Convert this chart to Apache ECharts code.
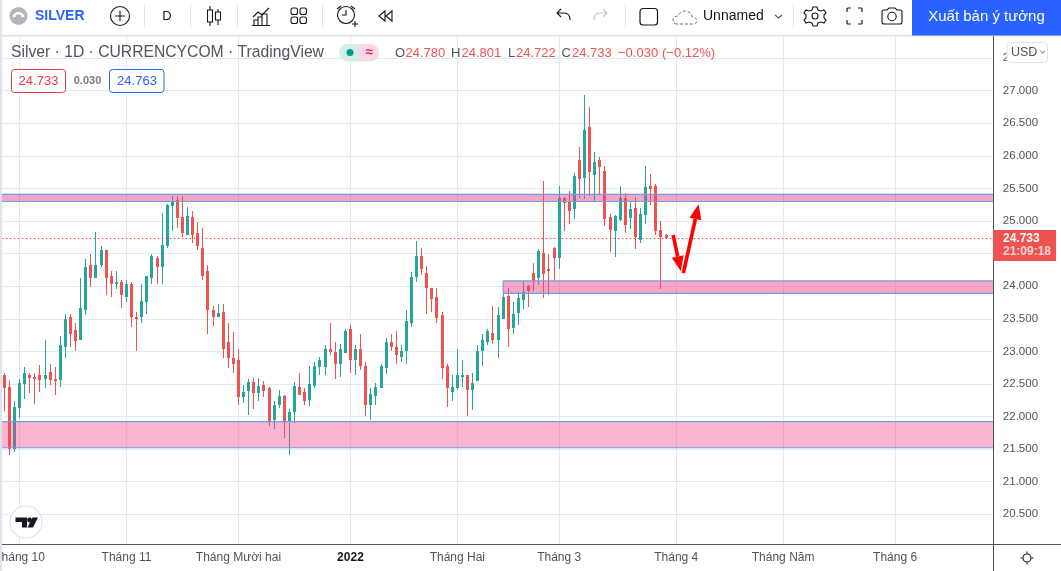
<!DOCTYPE html>
<html><head><meta charset="utf-8"><style>html,body{margin:0;padding:0;background:#fff}#c{width:1061px;height:571px}</style>
<script src="https://cdn.jsdelivr.net/npm/echarts@6/dist/echarts.min.js"></script></head>
<body><div id="c"></div><script>
const opens=[22.63,22.46,21.50,22.13,22.50,22.63,22.61,22.63,22.58,22.69,22.58,22.56,23.06,23.52,23.33,23.18,23.64,24.32,24.13,24.32,24.56,24.15,24.04,24.07,23.84,24.04,23.53,23.53,23.75,24.12,24.44,24.29,24.61,25.23,25.32,25.06,24.79,25.06,24.81,24.58,24.23,23.64,23.53,23.61,23.15,22.90,22.86,22.30,22.39,22.53,22.36,22.49,22.43,21.95,22.18,22.32,21.93,22.07,22.46,22.38,22.26,22.47,22.76,22.76,23.04,22.99,22.80,22.97,23.35,22.87,23.04,22.77,22.18,22.32,22.44,22.75,23.15,23.07,22.91,23.00,23.44,24.14,24.47,24.20,23.97,23.83,23.55,22.78,22.37,22.44,22.61,22.63,22.41,22.54,23.00,23.15,23.28,23.18,23.50,23.85,23.36,23.59,23.79,24.00,24.20,24.13,24.51,24.26,24.59,24.43,25.35,25.31,25.19,25.94,25.66,26.44,25.71,25.94,25.77,25.06,24.85,25.02,25.35,25.05,25.20,24.71,25.09,25.54,25.54,24.86,24.78];
const closes=[22.44,21.50,22.15,22.52,22.67,22.59,22.58,22.56,22.64,22.56,22.55,23.09,23.50,23.27,23.16,23.67,24.30,24.13,24.32,24.56,24.13,24.04,24.07,23.87,24.04,23.52,23.50,23.78,24.15,24.46,24.29,24.63,25.24,25.30,25.04,24.81,25.07,24.79,24.61,24.16,23.63,23.53,23.59,23.04,22.89,22.81,22.30,22.38,22.53,22.36,22.47,22.39,21.93,22.18,22.32,21.92,22.07,22.47,22.33,22.24,22.50,22.78,22.87,23.04,22.99,22.81,23.03,23.31,22.87,23.04,22.78,22.17,22.35,22.46,22.78,23.14,23.06,22.94,23.01,23.47,24.14,24.47,24.27,23.97,23.80,23.51,22.75,22.44,22.46,22.63,22.64,22.40,22.51,23.00,23.18,23.31,23.18,23.56,23.83,23.34,23.57,23.82,23.91,23.93,24.08,24.54,24.19,24.23,24.43,25.35,25.28,25.15,25.69,25.65,26.40,25.75,25.91,25.83,25.03,24.86,25.08,25.35,24.94,25.19,24.76,25.11,25.52,25.49,24.85,24.76,24.733];
const highs=[22.66,22.55,22.23,22.58,22.76,22.66,22.67,22.79,23.18,22.81,22.76,23.24,23.58,23.58,23.44,24.12,24.41,24.49,24.83,24.61,24.56,24.24,24.24,24.09,24.09,24.06,23.61,24.04,24.15,24.50,24.47,25.12,25.26,25.39,25.38,25.39,25.21,25.16,24.98,24.89,24.32,23.69,23.72,23.72,23.44,23.30,23.03,22.49,22.58,22.59,22.59,22.55,22.46,22.23,22.41,22.33,22.12,22.53,22.67,22.44,22.78,22.83,22.92,23.10,23.43,23.15,23.11,23.34,23.40,23.09,23.26,22.83,22.43,22.51,22.80,23.21,23.26,23.31,23.10,23.63,24.21,24.70,24.58,24.31,23.97,23.97,23.60,22.81,22.63,23.03,22.86,22.63,22.66,23.09,23.26,23.35,23.70,23.68,23.88,23.97,23.76,23.91,24.08,24.02,24.36,24.57,25.62,24.49,24.60,25.54,25.37,25.46,25.74,26.14,26.93,26.75,26.06,25.98,25.85,25.11,25.09,25.54,25.43,25.29,25.37,25.20,25.85,25.72,25.57,25.00,24.801];
const lows=[22.09,21.41,21.46,21.98,22.27,22.36,22.19,22.38,22.43,22.49,22.33,22.46,22.89,23.06,23.01,23.18,23.56,23.99,24.12,24.30,23.87,23.83,23.95,23.66,23.75,23.38,23.01,23.44,23.58,24.04,24.03,24.04,24.58,24.84,24.90,24.76,24.79,24.67,24.55,24.10,23.27,23.39,23.52,22.90,22.75,22.67,22.18,22.21,22.03,22.12,22.23,22.30,21.86,21.81,22.13,21.67,21.41,21.90,22.33,22.18,22.16,22.43,22.64,22.64,22.95,22.58,22.60,22.97,22.67,22.63,22.72,22.00,21.94,22.18,22.44,22.65,23.00,22.81,22.83,22.80,23.38,24.07,24.17,23.57,23.60,23.43,22.57,22.14,22.24,22.40,22.46,22.00,22.10,22.54,22.77,23.09,23.11,22.90,23.50,23.07,23.27,23.41,23.65,23.68,23.93,24.02,23.82,23.87,24.08,24.27,24.85,24.96,25.03,25.35,25.34,25.38,25.31,25.40,24.92,24.53,24.45,25.00,24.82,24.88,24.57,24.66,24.95,25.25,24.79,23.96,24.722];

const tickIndex=[3,24,46,68,89,109,132,153,175];
const tickLabels=['Tháng 10','Tháng 11','Tháng Mười hai','2022','Tháng Hai','Tháng 3','Tháng 4','Tháng Năm','Tháng 6'];
const categoryCount=195;
const categories=Array.from({length:categoryCount},(_,i)=>{const k=tickIndex.indexOf(i);return k<0?String(i):tickLabels[k];});
const priceTicks=[20.5,21,21.5,22,22.5,23,23.5,24,24.5,25,25.5,26,26.5,27,27.5];
const lastPrice=24.733;
// price zones: [first bar (fractional index), top price, bottom price, fill opacity]
const zoneStart=[-0.5,-0.5,98];
const zoneTop=[25.41,21.92,24.08];
const zoneBottom=[25.30,21.52,23.89];
const zoneAlpha=[0.46,0.38,0.46];
// hand-drawn arrows: [start bar, start price, tip bar, tip price]
const arrowStartBar=[131.4,133.4];
const arrowStartPrice=[24.785,24.20];
const arrowTipBar=[132.9,136.4];
const arrowTipPrice=[24.23,25.256];

const UP='#26a69a',DOWN='#ef5350',GRID='#e1e9f1',TXT='#50535e',INK='#131722',SEP='#e0e3eb',FONT='"Liberation Sans",Arial,sans-serif';
const candles=opens.map((o,i)=>[i,o,closes[i],lows[i],highs[i]]);
const zones=zoneStart.map((s,i)=>[s,zoneTop[i],zoneBottom[i],zoneAlpha[i]]);
const arrows=arrowStartBar.map((s,i)=>[s,arrowStartPrice[i],arrowTipBar[i],arrowTipPrice[i]]);
const isTick=i=>tickIndex.includes(i);

const g=[];
let iconId=0;
const T=(x,y,t,o={})=>g.push({type:'text',z:100,x,y,silent:true,style:{text:t,fill:o.c||TXT,font:(o.w||'normal')+' '+(o.s||13)+'px '+(o.f||FONT),textAlign:o.a||'left',textVerticalAlign:'middle',verticalAlign:'middle',align:o.a||'left'}});
const P=(d,o={})=>{const name='icon'+(iconId++);echarts.graphic.registerShape(name,echarts.graphic.extendPath(d,{}));
  g.push({type:name,z:o.z||100,silent:true,style:{fill:o.fill||'none',stroke:o.stroke===undefined?INK:o.stroke,lineWidth:o.lw||1.1,lineDash:o.dash||null}});};
const R=(x,y,w,h,o={})=>g.push({type:'rect',z:o.z||100,silent:true,shape:{x,y,width:w,height:h,r:o.r||0},style:{fill:o.fill||'none',stroke:o.stroke||null,lineWidth:o.lw||1}});
const C=(cx,cy,r,o={})=>g.push({type:'circle',z:o.z||100,silent:true,shape:{cx,cy,r},style:{fill:o.fill||'none',stroke:o.stroke||null,lineWidth:o.lw||1.1}});
const sep=x=>R(x,5,1,22,{fill:SEP});

// frame
R(0,0,1061,35,{fill:'#fff',z:60});
R(0,35,1061,1.5,{fill:SEP,z:61});
R(0,0,2,571,{fill:'#dfe3ee',z:62});
R(994,36,2,508,{fill:'#fff',z:63});
R(993,36,1,535,{fill:TXT,z:64});
R(993,544,68,1,{fill:TXT,z:64});

// toolbar left
C(18.5,16,9,{fill:'#b2b5be'});
P('M12.5 17a6 5 0 0 1 12 0h-3a3 2.4 0 0 0-6 0z',{fill:'#fff',stroke:null});
T(35,16.5,'SILVER',{c:'#2962ff',w:'bold',s:14});
C(120,16,9.5,{stroke:INK});
P('M120 11v10M115 16h10');
sep(144);
T(167,16.5,'D',{c:INK,s:13,a:'center'});
sep(190);
P('M210 6v4M210 22v4M218 9v3M218 20v5');
R(207.5,10,5,12,{stroke:INK,lw:1.1});R(215.5,12,5,8,{stroke:INK,lw:1.1});
sep(237);
P('M253 17l5-5 4 3 7-7');P('M254 25v-5h4v5M258 25v-8h4v8M262 25v-11h5v11M252 25.5h18');
[[291,8],[300,8],[291,17],[300,17]].forEach(p=>R(p[0],p[1],6.5,6.5,{stroke:INK,lw:1.1,r:2}));
sep(322);
C(346,15,8.5,{stroke:INK});
P('M346 10v5h-4M337 9l4-3M355 9l-4-3M352 24h6M355 21v6');
P('M385 11l-6 5 6 5zM392 11l-6 5 6 5z',{lw:1.1});
// toolbar right
P('M570 20c0-5-3-7-6-7h-7M561 9l-4 4 4 4');
P('M594 20c0-5 3-7 6-7h7M603 9l4 4-4 4',{stroke:'#c4c7cf'});
sep(625);
R(640,8.5,17.5,16.5,{stroke:INK,lw:1.2,r:3});
P('M677 24c-3 0-4-2-4-4 0-3 3-4 5-4 1-3 4-5 7-5 4 0 7 3 7 6 3 0 5 2 5 4 0 2-2 3-4 3z',{stroke:'#6a6d78',lw:1,dash:[3,2]});
T(703,16.5,'Unnamed',{c:INK,s:14});
P('M775 15l3.5 3 3.5-3',{stroke:TXT});
sep(793);
P('M813 7h4l1 3 3 1 3-1 2 3-2 2v3l2 2-2 3-3-1-3 1-1 3h-4l-1-3-3-1-3 1-2-3 2-2v-3l-2-2 2-3 3 1 3-1z');
C(815,16,3,{stroke:INK});
P('M847 12v-3a1 1 0 0 1 1-1h3M858 8h3a1 1 0 0 1 1 1v3M862 20v3a1 1 0 0 1-1 1h-3M851 24h-3a1 1 0 0 1-1-1v-3',{lw:1.2});
P('M884 10h3l2-2h6l2 2h3a2 2 0 0 1 2 2v10a2 2 0 0 1-2 2h-16a2 2 0 0 1-2-2v-10a2 2 0 0 1 2-2z');
C(892,16.5,4.2,{stroke:INK});
R(912,0,149,35.5,{fill:'#2962ff'});
T(986.5,17,'Xuất bản ý tưởng',{c:'#fff',s:15,a:'center'});

// legend row
T(11,52.5,'Silver · 1D · CURRENCYCOM · TradingView',{s:15.7,c:TXT});
R(339,44,20,17.5,{fill:'#d3eeea',r:[8.5,0,0,8.5]});
R(359,44,20,17.5,{fill:'#fbd7e3',r:[0,8.5,8.5,0]});
C(350,52.5,3.5,{fill:'#089981'});
T(369,52,'≈',{c:'#d81b60',s:13,a:'center',w:'bold'});
[[395,'O',TXT],[405.5,'24.780',DOWN],[451,'H',TXT],[461.5,'24.801',DOWN],[508,'L',TXT],[516,'24.722',DOWN],[561.5,'C',TXT],[572,'24.733',DOWN],[618,'−0.030',DOWN],[662,'(−0.12%)',DOWN]].forEach(a=>T(a[0],53,a[1],{c:a[2],s:13}));
R(11.5,69.5,54,23,{fill:'#fff',stroke:'#f23645',lw:1,r:3});
T(38.5,81,'24.733',{c:'#f23645',s:13,a:'center'});
T(87.5,81,'0.030',{s:11,a:'center',w:'bold',c:'#787b86'});
R(109.5,69.5,54.5,23,{fill:'#fff',stroke:'#2962ff',lw:1,r:3});
T(137,81,'24.763',{c:'#2962ff',s:13,a:'center'});

// price scale extras
R(1007,42.5,40.5,20,{fill:'#fff',stroke:SEP,lw:1,r:4});
T(1011,52.5,'USD',{s:12.5,c:TXT});
P('M1040.5 51l2.2 2 2.2-2',{stroke:TXT,lw:1});
R(993,230,63,31,{fill:DOWN});
T(1003,238.5,lastPrice.toFixed(3),{c:'#fff',s:12,w:'bold'});
T(1003,252,'21:09:18',{c:'#fbd5d4',s:12,w:'bold'});
C(1027,558,4,{stroke:INK,lw:1.1});
P('M1027 551.5v2M1027 562.5v2M1020.5 558h2M1031.5 558h2',{lw:1.1});

// TV logo
C(26,522,16,{fill:'#fff',stroke:SEP,lw:1.2});
P('M15.5 517.5h11.5v10h-5v-5.5h-6.5z',{fill:INK,stroke:null});
C(29.5,520,2.4,{fill:INK});
P('M32.5 517.5h5.5l-5 10h-5.5z',{fill:INK,stroke:null});

const chart=echarts.init(document.getElementById('c'));
chart.setOption({
 animation:false,backgroundColor:'#fff',
 grid:{left:1.8,width:992.55,top:36,height:508.5,containLabel:false,outerBoundsMode:'none'},
 xAxis:[{type:'category',data:categories,boundaryGap:true,
   axisLine:{lineStyle:{color:TXT,width:1}},axisTick:{show:false},
   axisLabel:{interval:isTick,color:TXT,fontSize:12,fontFamily:FONT,margin:7,hideOverlap:false,
     formatter:v=>v==='2022'?'{b|2022}':(tickLabels.includes(v)?v:''),rich:{b:{fontWeight:'bold',fontSize:12,color:INK,fontFamily:FONT}}},
   splitLine:{show:false}},
  {type:'value',min:-0.5,max:categoryCount-0.5,show:true,axisLine:{show:false},
   axisTick:{show:false,customValues:tickIndex},axisLabel:{show:false,customValues:tickIndex},
   position:'bottom',splitLine:{show:true,lineStyle:{color:GRID,width:1}}}],
 yAxis:{type:'value',position:'right',min:20.035,max:27.84,scale:true,
   axisLine:{show:false},axisTick:{show:false,customValues:priceTicks},
   axisLabel:{customValues:priceTicks,color:TXT,fontSize:11.5,fontFamily:FONT,margin:8.5,formatter:v=>v.toFixed(3)},
   splitLine:{show:true,lineStyle:{color:GRID,width:1}}},
 series:[
  {name:'Silver',type:'custom',data:candles,z:3,silent:true,encode:{x:0,y:[1,2,3,4]},
   renderItem:(p,api)=>{
     const i=api.value(0),o=api.value(1),c=api.value(2),lo=api.value(3),hi=api.value(4);
     const x=Math.floor(api.coord([i,o])[0]),yO=api.coord([i,o])[1],yC=api.coord([i,c])[1],yL=api.coord([i,lo])[1],yH=api.coord([i,hi])[1];
     const top=Math.round(Math.min(yO,yC)),bot=Math.round(Math.max(yO,yC)),fill=c>=o?UP:DOWN;
     return {type:'group',children:[
      {type:'rect',shape:{x,y:Math.round(yH),width:1,height:Math.max(1,Math.round(yL)-Math.round(yH))},style:{fill}},
      {type:'rect',shape:{x:x-1,y:top,width:3,height:Math.max(2,bot-top)},style:{fill}}
     ]};
   },
   markLine:{silent:true,symbol:'none',label:{show:false},animation:false,lineStyle:{color:'#f23645',type:[1.5,2.5],width:1},data:[{yAxis:lastPrice}]}},
  {type:'custom',xAxisIndex:1,z:5,data:zones,silent:true,encode:{x:0,y:1},clip:true,
   renderItem:(p,api)=>{
     const cs=p.coordSys,x0=api.coord([api.value(0),api.value(1)]),y1=api.coord([api.value(0),api.value(2)])[1];
     const r=cs.x+cs.width,a=api.value(3),stroke='#6f9ee6';
     const kids=[
      {type:'rect',shape:{x:x0[0],y:x0[1],width:r-x0[0],height:y1-x0[1]},style:{fill:`rgba(240,60,130,${a})`,stroke:null}},
      {type:'line',shape:{x1:x0[0],y1:x0[1],x2:r,y2:x0[1]},style:{stroke,lineWidth:1.2}},
      {type:'line',shape:{x1:x0[0],y1:y1,x2:r,y2:y1},style:{stroke,lineWidth:1.2}}];
     if(api.value(0)>=0)kids.push({type:'line',shape:{x1:x0[0],y1:x0[1],x2:x0[0],y2:y1},style:{stroke,lineWidth:1.2}});
     return {type:'group',children:kids};
   }},
  {type:'custom',xAxisIndex:1,z:6,data:arrows,silent:true,encode:{x:0,y:1},
   renderItem:(p,api)=>{
     const a=api.coord([api.value(0),api.value(1)]),b=api.coord([api.value(2),api.value(3)]);
     const dx=b[0]-a[0],dy=b[1]-a[1],L=Math.hypot(dx,dy),ux=dx/L,uy=dy/L,hl=15,hw=6;
     const m=[b[0]-ux*hl,b[1]-uy*hl];
     return {type:'group',children:[
      {type:'line',shape:{x1:a[0],y1:a[1],x2:m[0],y2:m[1]},style:{stroke:'#ff0000',lineWidth:3.6}},
      {type:'polygon',shape:{points:[b,[m[0]-uy*hw,m[1]+ux*hw],[m[0]+uy*hw,m[1]-ux*hw]]},style:{fill:'#ff0000'}}
     ]};
   }}
 ],
 graphic:{elements:g}
});
</script></body></html>
